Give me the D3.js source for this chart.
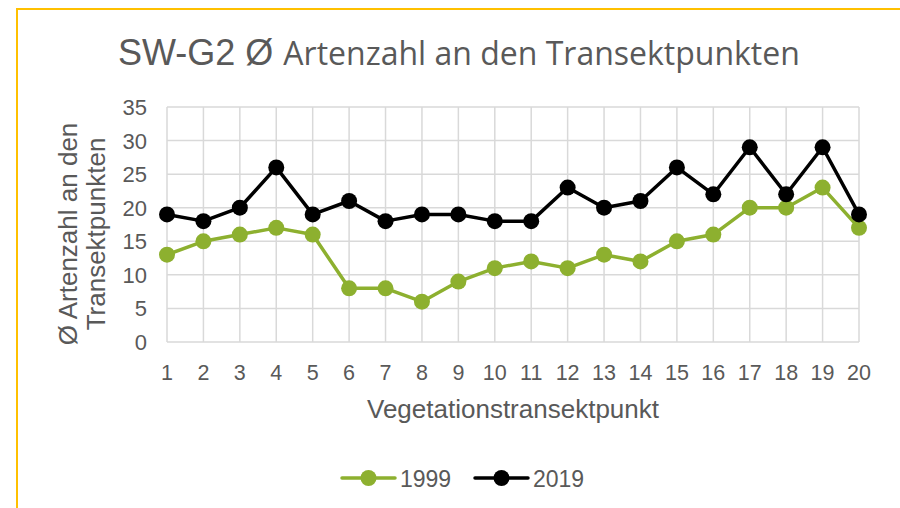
<!DOCTYPE html>
<html>
<head>
<meta charset="utf-8">
<script src="https://cdn.jsdelivr.net/npm/d3@7"></script>
<style>
  body { margin: 0; background: #fff; }
  text { font-family: "Liberation Sans", Arial, sans-serif; fill: #595959; }
</style>
</head>
<body>
<div id="chart"></div>
<script>
// data
const points = d3.range(1, 21);
const yTicks = [0, 5, 10, 15, 20, 25, 30, 35];
const values1999 = [13, 15, 16, 17, 16, 8, 8, 6, 9, 11, 12, 11, 13, 12, 15, 16, 20, 20, 23, 17];
const values2019 = [19, 18, 20, 26, 19, 21, 18, 19, 19, 18, 18, 23, 20, 21, 26, 22, 29, 22, 29, 19];
const seriesNames = ["1999", "2019"];
const seriesColors = ["#8DB02F", "#000000"];

const width = 900, height = 508;
const svg = d3.select("#chart").append("svg")
    .attr("width", width)
    .attr("height", height);

// orange frame (only top and left visible)
svg.append("rect")
    .attr("x", 17).attr("y", 9)
    .attr("width", 1000).attr("height", 1000)
    .attr("fill", "none")
    .attr("stroke", "#FFC000")
    .attr("stroke-width", 2);

// title
const title = svg.append("text")
    .attr("x", 118).attr("y", 65)
    .style("font-size", "36px");
title.append("tspan").text("SW-G2 Ø ");
title.append("tspan").style("font-family", "'Open Sans', sans-serif").style("font-size", "32px")
    .text("Artenzahl an den Transektpunkten");

const x = d3.scalePoint().domain(points).range([167, 859]);
const y = d3.scaleLinear().domain([0, 35]).range([342, 107]);

// gridlines
const g = svg.append("g");
g.selectAll(".hgrid").data(yTicks).enter().append("line")
    .attr("x1", x(1)).attr("x2", x(20))
    .attr("y1", d => y(d)).attr("y2", d => y(d))
    .attr("stroke", "#d9d9d9").attr("stroke-width", 1.5);
g.selectAll(".vgrid").data(points).enter().append("line")
    .attr("x1", d => x(d)).attr("x2", d => x(d))
    .attr("y1", y(0)).attr("y2", y(35))
    .attr("stroke", "#d9d9d9").attr("stroke-width", 1.5);

// axis labels
g.selectAll(".ylab").data(yTicks).enter().append("text")
    .attr("x", 147).attr("y", d => y(d) + 8)
    .attr("text-anchor", "end")
    .style("font-size", "22px")
    .text(d => d);
g.selectAll(".xlab").data(points).enter().append("text")
    .attr("x", d => x(d)).attr("y", 380)
    .attr("text-anchor", "middle")
    .style("font-size", "21.5px")
    .text(d => d);

svg.append("text")
    .attr("x", 513).attr("y", 418)
    .attr("text-anchor", "middle")
    .style("font-size", "26px")
    .text("Vegetationstransektpunkt");

const yTitle = svg.append("text")
    .attr("transform", "translate(0,234) rotate(-90)")
    .attr("text-anchor", "middle")
    .style("font-size", "26px");
yTitle.append("tspan").attr("x", 0).attr("y", 77).text("Ø Artenzahl an den");
yTitle.append("tspan").attr("x", 0).attr("y", 105).text("Transektpunkten");

// series
const series = [values1999, values2019];
const line = d3.line().x((d, i) => x(points[i])).y(d => y(d));
series.forEach((vals, si) => {
    svg.append("path")
        .attr("d", line(vals))
        .attr("fill", "none")
        .attr("stroke", seriesColors[si])
        .attr("stroke-width", 3.5)
        .attr("stroke-linejoin", "round");
    svg.selectAll(".m" + si).data(vals).enter().append("circle")
        .attr("cx", (d, i) => x(points[i]))
        .attr("cy", d => y(d))
        .attr("r", 8)
        .attr("fill", seriesColors[si]);
});

// legend
const legendX = [342, 475];
seriesNames.forEach((name, i) => {
    const lg = svg.append("g").attr("transform", `translate(${legendX[i]},478)`);
    lg.append("line").attr("x1", 0).attr("x2", 53).attr("y1", 0).attr("y2", 0)
        .attr("stroke", seriesColors[i]).attr("stroke-width", 3.5).attr("stroke-linecap", "round");
    lg.append("circle").attr("cx", 26.5).attr("cy", 0).attr("r", 8).attr("fill", seriesColors[i]);
    lg.append("text").attr("x", 58).attr("y", 8.5).style("font-size", "23px").text(name);
});
</script>
</body>
</html>
